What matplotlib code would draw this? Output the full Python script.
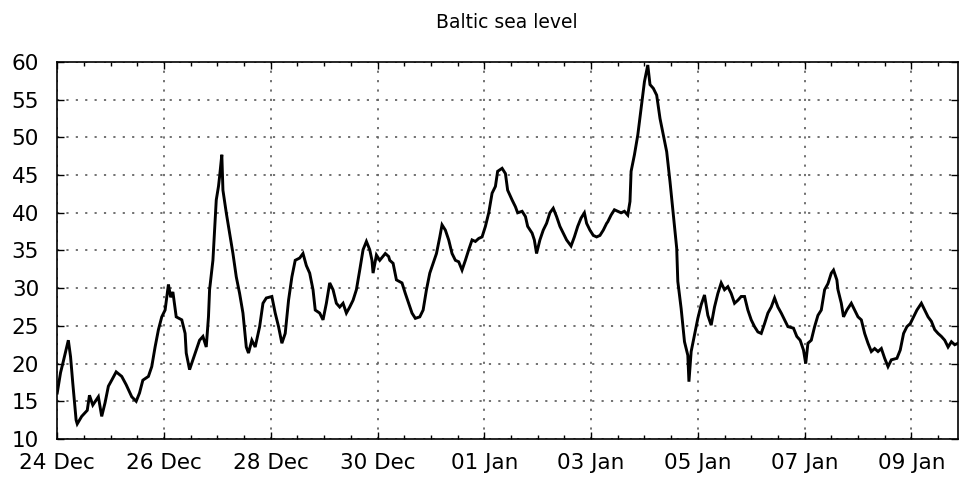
"""
Baltic sea level over the holiday period, drawn as a heavy black trace.
"""

import matplotlib
matplotlib.use("Agg")
import matplotlib.pyplot as plt
import matplotlib.dates as mdates
import pandas as pd


# Readings: hours after 24 Dec 00:00 and sea level (cm)
START = pd.Timestamp("2012-12-24 00:00")
END_HOURS = 405

hours = [
    0, 1.5, 2.5, 5, 6, 7, 8.5, 9, 11, 13.5, 14.5, 16, 18.5, 20, 21.5, 23,
    24.5, 26.5, 29, 31, 33.5, 35.5, 37, 38.5, 41, 42.5, 44, 45.5, 47, 48.5,
    50, 51, 52, 53.5, 56, 57.5, 58, 59.5, 61, 62.5, 64, 65.5, 67, 68, 68.5,
    70, 71, 71.5, 72.5, 73, 74, 74.5, 76, 77.5, 79, 80.5, 82, 83.5, 85, 86,
    87.5, 89, 91, 92.5, 94, 96.5, 98, 99.5, 101, 102.5, 104, 105.5, 107,
    109, 110.5, 112, 113.5, 115, 116, 118, 119.5, 121, 122.5, 124, 125.5,
    127, 128.5, 130, 131.5, 133, 134.5, 136, 137.5, 139, 140.5, 141.5, 142,
    143.5, 145, 147.5, 149, 149.5, 151, 152.5, 155, 156.5, 158, 159.5, 161,
    163, 164.5, 166, 167.5, 169, 170.5, 172, 173, 174.5, 176, 177.5, 179,
    180.5, 182, 183.5, 185, 186.5, 188, 189.5, 191, 192.5, 194, 195.5, 197,
    198, 200, 201.5, 202.5, 204.5, 206, 207, 209, 210.5, 211.5, 213.5,
    214.5, 215.5, 217, 218.5, 220, 221.5, 223, 224.5, 226, 227.5, 229, 231,
    232.5, 234, 235.5, 237, 238, 239.5, 241, 242.5, 244, 245.5, 247, 247.5,
    249, 250.5, 252, 253.5, 255, 256.5, 257.5, 258, 259.5, 261, 262.5, 264,
    265.5, 266.5, 268, 269.5, 271, 272.5, 274, 275.5, 277, 278.5, 279, 280.5,
    282, 283.5, 284, 285, 286.5, 288, 289.5, 291, 292.5, 294, 295.5, 297,
    298.5, 300, 301.5, 303, 304.5, 306, 307.5, 309, 310.5, 312, 313.5, 315,
    316.5, 318, 319.5, 321, 322.5, 324, 325.5, 327, 328.5, 331, 332.5, 334,
    335.5, 336.5, 337.5, 339, 340.5, 342, 343.5, 345, 346.5, 348, 349, 350.5,
    351, 352.5, 353.5, 355, 357, 358.5, 360, 361.5, 363, 364.5, 366, 367.5,
    369, 370.5, 372, 373.5, 375, 377.5, 379, 380.5, 382, 383.5, 385, 386.5,
    388.5, 390, 391.5, 393, 394.5, 396, 397.5, 399, 400.5, 402, 403.5, 405,
]

level = [
    16.1, 18.8, 20.0, 23.1, 20.9, 17.4, 12.5, 12.0, 13.0, 13.8, 15.8, 14.5,
    15.6, 13.0, 14.8, 17.0, 17.8, 18.9, 18.3, 17.2, 15.6, 15.0, 16.1, 17.8,
    18.3, 19.6, 22.2, 24.5, 26.2, 27.1, 30.5, 28.8, 29.5, 26.2, 25.8, 24.0,
    21.4, 19.2, 20.5, 21.8, 23.1, 23.6, 22.2, 26.2, 29.8, 33.7, 39.0, 41.7,
    43.5, 44.8, 47.7, 43.0, 40.0, 37.3, 34.6, 31.5, 29.3, 26.7, 22.2, 21.4,
    23.1, 22.2, 24.9, 28.0, 28.7, 28.9, 26.7, 24.9, 22.7, 24.0, 28.4, 31.5,
    33.7, 34.0, 34.6, 33.0, 32.0, 29.8, 27.1, 26.7, 25.8, 28.0, 30.7, 29.8,
    28.0, 27.5, 28.0, 26.7, 27.5, 28.4, 29.8, 32.4, 35.1, 36.2, 35.1, 33.7,
    32.0, 34.4, 33.7, 34.6, 34.2, 33.7, 33.3, 31.1, 30.7, 29.3, 28.0, 26.7,
    26.0, 26.2, 27.1, 29.8, 32.0, 33.3, 34.6, 36.8, 38.4, 37.7, 36.4, 34.6,
    33.7, 33.5, 32.4, 33.7, 35.1, 36.4, 36.2, 36.6, 36.8, 38.2, 40.0, 42.6,
    43.5, 45.5, 45.9, 45.2, 43.0, 41.7, 40.8, 40.0, 40.2, 39.5, 38.2, 37.3,
    36.4, 34.6, 36.4, 37.7, 38.6, 40.0, 40.6, 39.5, 38.2, 37.3, 36.4, 35.6,
    36.8, 38.2, 39.3, 40.0, 38.6, 37.7, 37.0, 36.8, 37.0, 37.7, 38.6, 38.8,
    39.7, 40.4, 40.2, 40.0, 40.2, 39.7, 41.5, 45.5, 47.7, 50.3, 53.9, 57.4,
    59.6, 57.0, 56.5, 55.6, 52.5, 50.3, 48.1, 44.1, 39.7, 35.3, 30.9, 27.3,
    22.9, 21.1, 17.6, 21.6, 23.8, 26.0, 27.8, 29.1, 26.4, 25.1, 27.5, 29.3,
    30.7, 29.8, 30.2, 29.3, 28.0, 28.4, 28.9, 28.9, 27.1, 25.8, 24.9, 24.2,
    24.0, 25.3, 26.7, 27.5, 28.7, 27.5, 26.7, 25.8, 24.9, 24.7, 23.6, 23.1,
    21.8, 20.0, 22.7, 23.1, 24.9, 26.4, 27.1, 29.8, 30.6, 32.0, 32.4, 31.1,
    29.8, 28.0, 26.2, 27.1, 28.0, 27.1, 26.2, 25.8, 24.0, 22.7, 21.6, 22.0,
    21.6, 22.0, 20.7, 19.6, 20.5, 20.7, 21.8, 24.0, 24.9, 25.3, 26.2, 27.1,
    28.0, 27.1, 26.2, 25.6, 24.5, 24.0, 23.6, 23.1, 22.2, 22.9, 22.5, 22.7,
]

y_ticks = [10, 15, 20, 25, 30, 35, 40, 45, 50, 55, 60]
label_days = [24, 26, 28, 30, 1, 3, 5, 7, 9]

times = START + pd.to_timedelta(hours, unit="h")

fig = plt.figure(figsize=(9.6, 4.78), dpi=100)
ax = fig.add_axes([0.0596, 0.0816, 0.9384, 0.7887])

ax.plot(times, level, color="black", linewidth=2.1,
        solid_joinstyle="miter")

ax.set_xlim(START, START + pd.Timedelta(hours=END_HOURS))
ax.set_ylim(10, 60)
ax.set_yticks(y_ticks)

ax.xaxis.set_major_locator(mdates.DayLocator(bymonthday=label_days))
ax.xaxis.set_minor_locator(mdates.HourLocator(byhour=[0, 12]))
ax.xaxis.set_major_formatter(mdates.DateFormatter("%d %b"))

ax.tick_params(axis="both", which="both", direction="in",
               top=True, right=True, labelsize=15.5, colors="black")
ax.tick_params(axis="both", which="major", length=5, width=1)
ax.tick_params(axis="x", which="minor", length=3, width=1)
ax.tick_params(axis="y", pad=13)
ax.tick_params(axis="x", pad=10)

ax.grid(True, which="major", linestyle=(0, (1.2, 4)), color="#666666",
        linewidth=1.3)

for side in ax.spines.values():
    side.set_linewidth(1.2)
    side.set_color("black")

fig.text(0.528, 0.952, "Baltic sea level", ha="center", va="center",
         fontsize=13.5)

fig.savefig("out.png", dpi=100)
plt.close(fig)
